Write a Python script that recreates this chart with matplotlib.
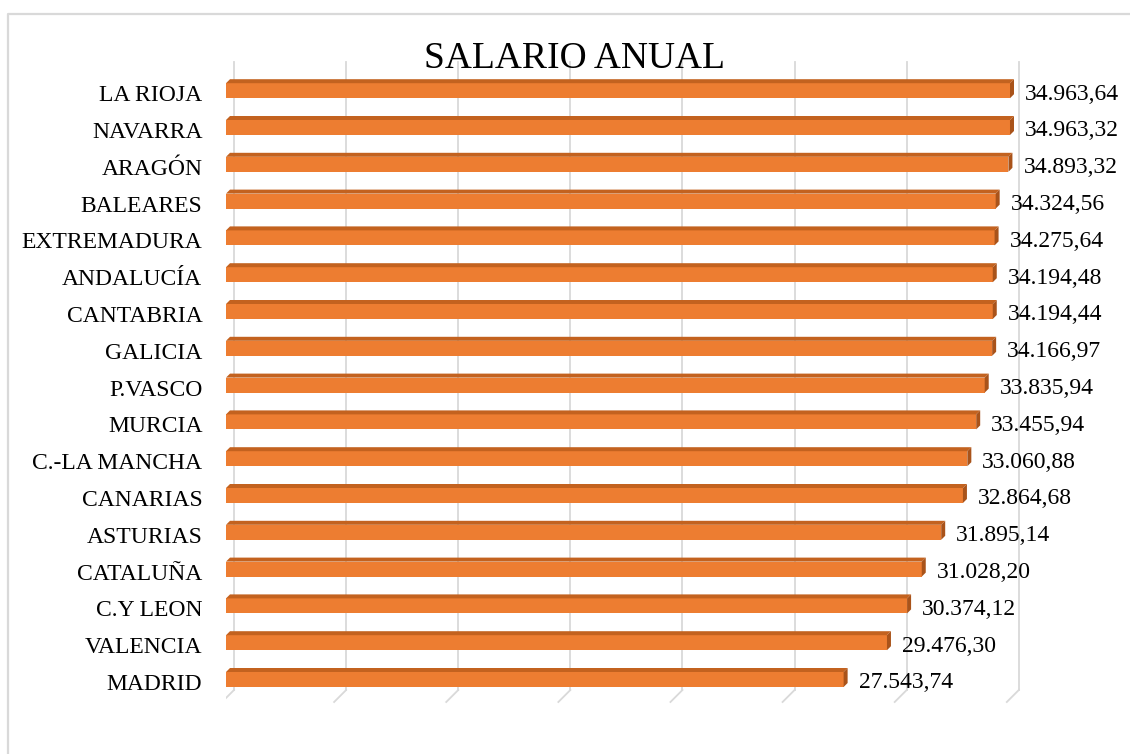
import matplotlib.pyplot as plt
import matplotlib.transforms as mtransforms
from matplotlib.patches import Polygon
from matplotlib.lines import Line2D

# data (bottom to top)
regions = ["MADRID", "VALENCIA", "C.Y LEON", "CATALUÑA", "ASTURIAS", "CANARIAS",
           "C.-LA MANCHA", "MURCIA", "P.VASCO", "GALICIA", "CANTABRIA", "ANDALUCÍA",
           "EXTREMADURA", "BALEARES", "ARAGÓN", "NAVARRA", "LA RIOJA"]
salaries = [27543.74, 29476.30, 30374.12, 31028.20, 31895.14, 32864.68,
            33060.88, 33455.94, 33835.94, 34166.97, 34194.44, 34194.48,
            34275.64, 34324.56, 34893.32, 34963.32, 34963.64]
grid_values = [0, 5000, 10000, 15000, 20000, 25000, 30000, 35000]

plt.rcParams['font.family'] = ['Liberation Serif', 'DejaVu Serif']

W, H = 1130, 754
fig = plt.figure(figsize=(W / 100, H / 100), dpi=100)

# axes placed in pixel terms
ax_left, ax_right, ax_top, ax_bottom = 226, 1130, 40, 720
ax = fig.add_axes([ax_left / W, 1 - ax_bottom / H, (ax_right - ax_left) / W, (ax_bottom - ax_top) / H])

px_x = (1010 - 226) / 34963.64   # pixels per unit on x
row = 36.8                        # pixels per category
y0 = 679.5                        # pixel of first bar center
ax.set_xlim(0, (ax_right - ax_left) / px_x)
ax.set_ylim((y0 - ax_bottom) / row, (y0 - ax_top) / row)

def ux(p):
    return p / px_x

def uy(p):
    return p / row

front = '#ED7D31'
top_c = '#C3621F'
side_c = '#A9531A'
grid_c = '#D9D9D9'

# gridlines on back wall with slanted foot
for g in grid_values:
    gx = g + ux(8)
    ax.plot([gx, gx], [(y0 - 62) / row, (y0 - 690) / row], color=grid_c, lw=1.3, zorder=1)
    ax.plot([gx, gx - ux(12)], [(y0 - 690) / row, (y0 - 702) / row], color=grid_c, lw=1.3, zorder=1)

h = uy(15)
dx, dy = ux(4), uy(4)
idx = list(range(len(regions)))
ax.barh(idx, salaries, height=h, color=front, zorder=3)
for i, v in zip(idx, salaries):
    yt = i + h / 2
    yb = i - h / 2
    ax.add_patch(Polygon([(0, yt), (v, yt), (v + dx, yt + dy), (dx, yt + dy)],
                         closed=True, facecolor=top_c, edgecolor='none', zorder=3))
    ax.add_patch(Polygon([(v, yb), (v, yt), (v + dx, yt + dy), (v + dx, yb + dy)],
                         closed=True, facecolor=side_c, edgecolor='none', zorder=3))
    lab = f"{v:,.2f}".replace(",", "X").replace(".", ",").replace("X", ".")
    ax.text(v + dx + ux(11), i - uy(3.5), lab, fontsize=17, va='center', ha='left', zorder=4)

ax.set_yticks(idx)
ax.set_yticklabels(regions, fontsize=17)
ax.tick_params(axis='y', length=0, pad=17)
shift = mtransforms.ScaledTranslation(0, -2.5 / 100, fig.dpi_scale_trans)
for t in ax.get_yticklabels():
    t.set_transform(t.get_transform() + shift)
ax.set_xticks([])
for s in ax.spines.values():
    s.set_visible(False)

fig.text(575 / W, 1 - 68 / H, "SALARIO ANUAL", fontsize=27, ha='center', va='baseline')

# chart frame (top and left edges)
fig.add_artist(Line2D([8 / W, 8 / W, 1], [0, 1 - 14 / H, 1 - 14 / H],
                      transform=fig.transFigure, color=grid_c, lw=1.6))

fig.savefig('out.png', dpi=100)
